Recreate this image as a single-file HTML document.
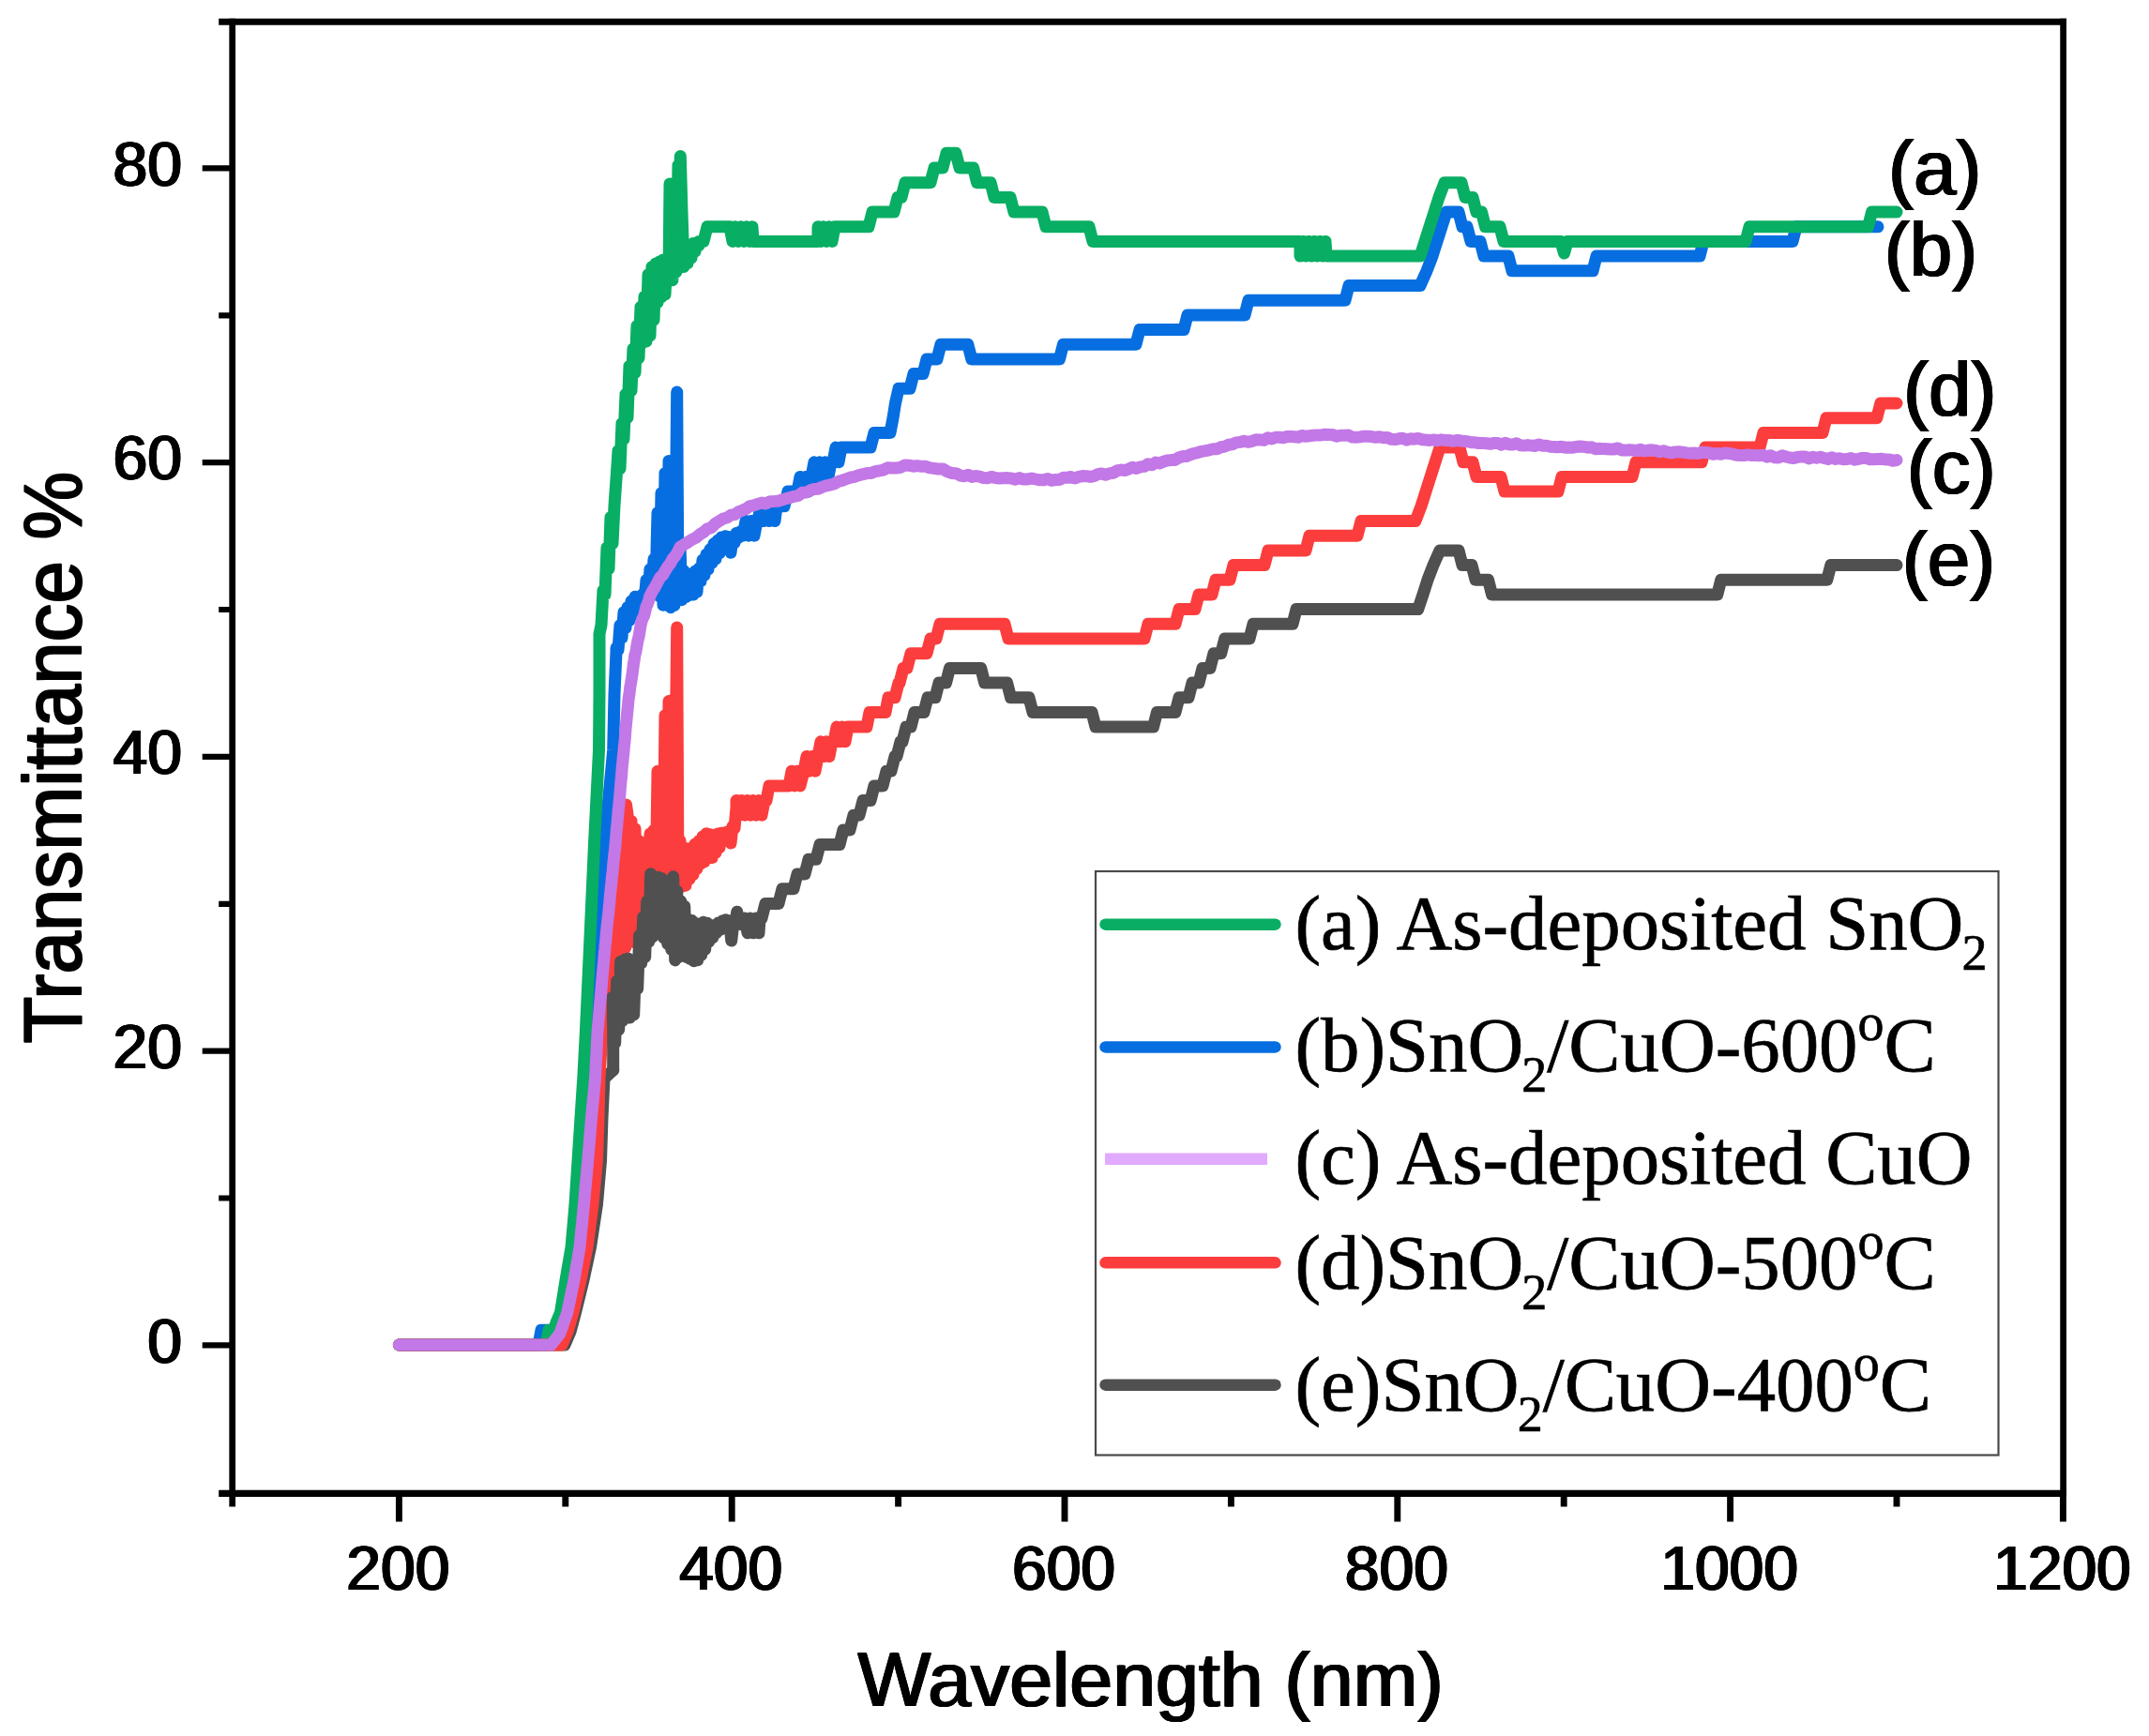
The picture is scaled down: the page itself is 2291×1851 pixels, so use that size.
<!DOCTYPE html>
<html lang="en"><head><meta charset="utf-8"><title>Transmittance vs Wavelength</title>
<style>html,body{margin:0;padding:0;background:#fff}body{width:2291px;height:1851px;overflow:hidden}svg{display:block}</style></head>
<body>
<svg width="2291" height="1851" viewBox="0 0 2291 1851">
<rect width="2291" height="1851" fill="#fff"/>
<path d="M425.4 1434.0 L574.0 1434.0 L577.0 1418.3 L589.0 1418.3 L596.0 1422.0 L604.0 1399.5 L611.0 1365.0 L616.0 1330.0 L621.0 1284.0 L625.0 1238.0 L629.0 1192.0 L633.0 1150.0 L636.0 1100.0 L640.0 1000.0 L644.0 900.0 L649.0 850.0 L653.7 800.0 L655.0 740.0 L657.0 695.0 L657.0 690.9 L659.0 693.0 L661.0 666.6 L663.0 679.9 L665.0 652.7 L667.0 669.3 L669.0 647.6 L671.0 661.4 L673.0 641.1 L675.0 655.8 L677.0 636.2 L679.0 652.0 L681.0 639.0 L683.0 649.0 L685.0 633.6 L687.0 641.0 L689.0 618.6 L691.0 636.7 L693.0 606.8 L695.0 629.9 L697.0 596.2 L699.0 627.1 L701.0 546.6 L703.0 635.8 L705.0 525.7 L707.0 645.3 L709.0 504.4 L711.0 645.1 L713.0 491.4 L715.0 647.7 L717.0 499.2 L719.0 645.5 L721.0 488.9 L721.7 418.0 L723.0 637.7 L725.0 582.2 L727.0 639.7 L729.0 608.6 L731.0 636.6 L733.0 611.8 L735.0 634.6 L737.0 612.3 L739.0 634.0 L741.0 609.1 L743.0 630.9 L745.0 606.1 L747.0 619.7 L749.0 597.1 L751.0 613.1 L753.0 591.1 L755.0 606.9 L757.0 585.7 L759.0 600.1 L761.0 579.7 L763.0 595.9 L765.0 576.3 L767.0 589.7 L769.0 572.9 L771.0 583.3 L773.0 571.7 L775.0 581.0 L777.0 572.6 L779.0 589.3 L781.0 572.8 L783.0 578.7 L785.0 568.4 L787.0 573.5 L789.0 567.1 L791.0 568.3 L792.0 571.2 L795.0 555.5 L798.0 571.2 L801.0 555.5 L804.0 571.2 L807.0 555.5 L808.0 555.5 L811.0 539.8 L814.0 555.5 L817.0 539.8 L820.0 555.5 L823.0 539.8 L826.0 555.5 L828.0 539.8 L836.0 539.8 L840.0 524.1 L850.0 524.1 L850.0 524.1 L853.0 508.4 L856.0 524.1 L859.0 508.4 L862.0 524.1 L865.0 508.4 L868.0 492.8 L871.0 508.4 L874.0 492.8 L877.0 508.4 L880.0 492.8 L883.0 508.4 L886.0 492.8 L888.0 492.8 L891.0 477.1 L894.0 492.8 L897.0 477.1 L900.0 477.1 L928.0 477.1 L932.0 461.4 L949.0 461.4 L952.0 445.7 L952.0 445.7 L954.5 430.0 L954.5 430.0 L958.0 414.3 L970.0 414.3 L974.0 398.6 L984.0 398.6 L988.0 382.9 L999.0 382.9 L1003.0 367.2 L1031.8 367.2 L1035.8 382.9 L1129.5 382.9 L1133.5 367.2 L1211.0 367.2 L1215.0 351.6 L1262.0 351.6 L1266.0 335.9 L1327.0 335.9 L1331.0 320.2 L1434.0 320.2 L1438.0 304.5 L1514.0 304.5 L1514.0 304.5 L1521.0 288.8 L1527.0 273.1 L1532.0 257.4 L1537.0 241.8 L1542.0 226.1 L1542.0 226.1 L1555.0 226.1 L1559.0 241.8 L1564.0 241.8 L1568.0 257.4 L1578.0 257.4 L1582.0 273.1 L1608.0 273.1 L1612.0 288.8 L1698.0 288.8 L1702.0 273.1 L1812.0 273.1 L1816.0 257.4 L1911.0 257.4 L1915.0 241.8 L2002.0 241.8" fill="none" stroke="#066ee0" stroke-width="13" stroke-linejoin="round" stroke-linecap="round"/>
<path d="M425.4 1434.0 L582.0 1434.0 L585.0 1418.3 L590.5 1418.3 L593.0 1410.0 L597.5 1399.5 L603.0 1365.0 L609.0 1330.0 L613.0 1284.0 L616.0 1238.0 L619.0 1192.0 L622.0 1146.0 L624.4 1100.0 L629.0 1000.0 L633.5 900.0 L638.5 800.0 L639.0 740.0 L639.0 676.0 L639.0 676.0 L641.0 666.4 L643.0 629.5 L645.0 634.0 L647.0 583.7 L649.0 606.5 L651.0 551.6 L653.0 579.7 L655.0 539.3 L658.3 492.0 L659.0 480.6 L661.0 499.7 L663.0 451.4 L665.0 468.1 L667.0 420.2 L669.0 445.3 L671.0 390.2 L673.0 416.8 L675.0 371.8 L677.0 397.4 L679.0 347.6 L681.0 381.7 L683.0 327.3 L685.0 365.6 L687.0 316.1 L689.0 364.0 L691.0 292.7 L693.0 358.0 L695.0 284.5 L697.0 341.1 L699.0 280.9 L701.0 322.6 L703.0 279.1 L705.0 316.9 L707.0 276.9 L709.0 314.1 L711.0 275.9 L713.0 299.2 L714.0 196.0 L715.0 202.9 L717.0 298.7 L719.0 207.0 L721.0 290.0 L723.0 176.3 L725.0 278.2 L725.3 166.5 L727.0 226.3 L729.0 284.5 L731.0 261.8 L733.0 280.6 L735.0 261.1 L737.0 274.9 L739.0 259.5 L741.0 268.2 L743.0 259.1 L745.0 261.8 L745.0 257.4 L750.0 257.4 L754.0 241.8 L778.0 241.8 L778.0 241.8 L781.0 257.4 L784.0 241.8 L787.0 257.4 L790.0 241.8 L793.0 257.4 L796.0 241.8 L799.0 257.4 L802.0 241.8 L803.0 257.4 L872.0 257.4 L872.0 241.8 L875.0 257.4 L878.0 241.8 L881.0 257.4 L884.0 241.8 L887.0 257.4 L890.0 241.8 L893.0 241.8 L926.0 241.8 L930.0 226.1 L953.0 226.1 L957.0 210.4 L961.0 210.4 L965.0 194.7 L992.0 194.7 L996.0 179.0 L1005.0 179.0 L1009.0 163.3 L1019.0 163.3 L1023.0 179.0 L1037.6 179.0 L1041.6 194.7 L1056.0 194.7 L1060.0 210.4 L1077.0 210.4 L1081.0 226.1 L1111.0 226.1 L1115.0 241.8 L1161.0 241.8 L1165.0 257.4 L1386.0 257.4 L1386.0 273.1 L1389.0 257.4 L1392.0 273.1 L1395.0 257.4 L1398.0 273.1 L1401.0 257.4 L1404.0 273.1 L1407.0 257.4 L1410.0 273.1 L1413.0 257.4 L1414.0 273.1 L1514.0 273.1 L1514.0 273.1 L1519.0 257.4 L1524.0 241.8 L1529.0 226.1 L1534.0 210.4 L1540.0 194.7 L1540.0 194.7 L1558.0 194.7 L1562.0 210.4 L1570.0 210.4 L1574.0 226.1 L1579.5 226.1 L1583.5 241.8 L1599.0 241.8 L1603.0 257.4 L1664.0 257.4 L1664.0 257.4 L1667.5 270.0 L1671.0 257.4 L1671.0 257.4 L1861.0 257.4 L1865.0 241.8 L1991.5 241.8 L1995.5 226.1 L2022.0 226.1" fill="none" stroke="#08ae63" stroke-width="13" stroke-linejoin="round" stroke-linecap="round"/>
<path d="M425.4 1434.0 L602.0 1434.0 L608.0 1420.0 L613.5 1399.5 L622.0 1365.0 L629.5 1330.0 L636.5 1284.0 L640.5 1238.0 L642.0 1192.0 L644.0 1150.0 L653.7 1141.0" fill="none" stroke="#505050" stroke-width="13" stroke-linejoin="round" stroke-linecap="round"/>
<path d="M425.4 1434.0 L599.0 1434.0 L605.0 1420.0 L611.0 1399.5 L619.0 1365.0 L626.0 1330.0 L632.0 1284.0 L636.4 1238.0 L638.0 1192.0 L639.0 1150.0 L642.0 1100.0 L645.0 1061.0 L645.0 1061.0 L647.0 1061.9 L649.0 1028.3 L651.0 1062.9 L653.0 996.8 L655.0 1049.3 L657.0 960.8 L659.0 1039.4 L661.0 915.7 L663.0 1025.8 L665.0 892.1 L667.0 1010.1 L667.5 858.0 L669.0 868.1 L671.0 1004.7 L673.0 875.4 L675.0 1004.3 L677.0 883.6 L679.0 988.7 L681.0 896.4 L683.0 988.5 L685.0 900.5 L687.0 996.6 L689.0 898.1 L691.0 995.5 L693.0 888.9 L695.0 977.4 L697.0 885.1 L699.0 960.6 L701.0 822.3 L703.0 947.7 L705.0 821.5 L707.0 942.1 L709.0 762.7 L711.0 953.7 L713.0 747.6 L715.0 938.9 L717.0 746.2 L719.0 932.7 L721.0 733.7 L721.7 669.0 L723.0 948.3 L725.0 896.3 L727.0 945.3 L729.0 904.5 L731.0 944.2 L733.0 904.7 L735.0 937.3 L737.0 904.6 L739.0 932.7 L741.0 899.9 L743.0 926.4 L745.0 896.7 L747.0 920.9 L749.0 892.0 L751.0 918.9 L753.0 888.7 L755.0 913.9 L757.0 889.7 L759.0 914.6 L761.0 890.9 L763.0 909.1 L765.0 889.1 L767.0 903.7 L769.0 888.3 L771.0 895.9 L773.0 887.7 L775.0 894.6 L777.0 886.2 L779.0 898.9 L781.0 881.1 L783.0 883.4 L785.0 861.1 L785.0 853.6 L788.0 869.2 L791.0 853.6 L794.0 869.2 L797.0 853.6 L800.0 869.2 L803.0 853.6 L806.0 869.2 L809.0 853.6 L812.0 869.2 L815.0 853.6 L817.0 853.6 L820.0 837.9 L823.0 837.9 L841.0 837.9 L841.0 837.9 L844.0 822.2 L847.0 837.9 L850.0 822.2 L853.0 837.9 L857.0 822.2 L860.0 806.5 L863.0 822.2 L866.0 806.5 L869.0 822.2 L872.0 806.5 L875.0 790.8 L878.0 806.5 L881.0 790.8 L884.0 806.5 L887.0 790.8 L889.0 790.8 L892.0 775.1 L895.0 790.8 L898.0 775.1 L901.0 790.8 L904.0 775.1 L907.0 775.1 L924.0 775.1 L924.0 775.1 L927.0 759.4 L930.0 759.4 L944.0 759.4 L944.0 759.4 L947.0 743.8 L950.0 743.8 L954.0 743.8 L958.0 728.1 L959.0 728.1 L963.0 712.4 L967.0 712.4 L971.0 696.7 L988.0 696.7 L992.0 681.0 L998.0 681.0 L1002.0 665.3 L1071.0 665.3 L1075.0 681.0 L1220.0 681.0 L1224.0 665.3 L1253.0 665.3 L1257.0 649.6 L1274.0 649.6 L1278.0 633.9 L1292.0 633.9 L1296.0 618.2 L1311.0 618.2 L1315.0 602.6 L1348.0 602.6 L1352.0 586.9 L1392.0 586.9 L1396.0 571.2 L1447.0 571.2 L1451.0 555.5 L1509.0 555.5 L1509.0 555.5 L1515.0 539.8 L1520.0 524.1 L1525.0 508.4 L1530.0 492.8 L1535.0 477.1 L1535.0 477.1 L1556.0 477.1 L1560.0 492.8 L1570.0 492.8 L1574.0 508.4 L1600.0 508.4 L1604.0 524.1 L1661.0 524.1 L1665.0 508.4 L1740.0 508.4 L1744.0 492.8 L1814.0 492.8 L1818.0 477.1 L1876.0 477.1 L1880.0 461.4 L1943.0 461.4 L1947.0 445.7 L2000.8 445.7 L2004.8 430.0 L2022.0 430.0" fill="none" stroke="#fc3d3d" stroke-width="13" stroke-linejoin="round" stroke-linecap="round"/>
<path d="M653.7 1141.0 L653.7 1100.0 L653.2 1063.0 L653.7 1065.8 L655.7 1112.2 L657.7 1046.0 L659.7 1097.9 L661.7 1025.2 L663.7 1088.5 L665.7 1023.3 L667.7 1081.1 L669.7 1022.0 L671.7 1084.9 L673.7 1026.1 L675.7 1082.0 L677.7 1022.8 L679.7 1054.1 L681.7 997.3 L683.7 1027.0 L685.7 977.8 L687.7 1020.5 L689.7 961.1 L691.7 1004.2 L693.7 931.7 L695.7 999.0 L697.7 937.2 L699.7 991.0 L701.7 935.3 L703.7 992.5 L705.7 936.8 L707.7 1000.1 L709.7 953.4 L711.7 1006.4 L713.7 952.7 L715.7 1012.4 L717.7 934.8 L719.7 1023.9 L721.7 950.0 L723.7 1020.4 L725.7 960.8 L727.7 1017.4 L729.7 966.2 L731.7 1020.6 L733.7 980.3 L735.7 1022.4 L737.7 981.6 L739.7 1024.8 L741.7 984.4 L743.7 1023.8 L745.7 986.6 L747.7 1018.3 L749.7 983.3 L751.7 1012.3 L753.7 984.3 L755.7 1004.0 L757.7 991.3 L759.7 999.8 L761.7 986.4 L763.7 994.6 L765.7 984.1 L767.7 991.3 L769.7 982.1 L771.7 987.7 L773.7 980.7 L775.7 987.7 L777.7 981.7 L779.7 1003.0 L781.7 986.1 L783.7 986.8 L785.7 972.3 L787.7 983.9 L789.7 978.6 L791.7 986.2 L793.7 980.3 L794.0 979.1 L797.0 994.8 L800.0 979.1 L803.0 994.8 L806.0 979.1 L809.0 994.8 L810.0 979.1 L812.0 979.1 L816.0 963.4 L830.0 963.4 L834.0 947.7 L846.0 947.7 L850.0 932.0 L858.0 932.0 L862.0 916.3 L870.0 916.3 L874.0 900.6 L895.0 900.6 L899.0 884.9 L906.0 884.9 L910.0 869.2 L916.0 869.2 L920.0 853.6 L928.0 853.6 L932.0 837.9 L941.0 837.9 L945.0 822.2 L950.0 822.2 L954.0 806.5 L956.0 806.5 L960.0 790.8 L962.0 790.8 L966.0 775.1 L971.0 775.1 L975.0 759.4 L985.0 759.4 L989.0 743.8 L997.0 743.8 L1001.0 728.1 L1008.5 728.1 L1012.5 712.4 L1045.7 712.4 L1049.7 728.1 L1073.6 728.1 L1077.6 743.8 L1097.0 743.8 L1101.0 759.4 L1164.0 759.4 L1168.0 775.1 L1229.5 775.1 L1233.5 759.4 L1253.0 759.4 L1257.0 743.8 L1267.0 743.8 L1271.0 728.1 L1278.0 728.1 L1282.0 712.4 L1290.0 712.4 L1294.0 696.7 L1301.7 696.7 L1305.7 681.0 L1332.0 681.0 L1336.0 665.3 L1378.0 665.3 L1382.0 649.6 L1511.7 649.6 L1511.7 649.6 L1517.0 633.9 L1522.0 618.2 L1528.0 602.6 L1535.0 586.9 L1535.0 586.9 L1555.0 586.9 L1559.0 602.6 L1569.0 602.6 L1573.0 618.2 L1586.5 618.2 L1590.5 633.9 L1830.8 633.9 L1834.8 618.2 L1947.8 618.2 L1951.8 602.6 L2022.0 602.6" fill="none" stroke="#505050" stroke-width="13" stroke-linejoin="round" stroke-linecap="round"/>
<path d="M425.4 1434.0 L429.5 1434.0 L433.5 1434.0 L437.6 1434.0 L441.6 1434.0 L445.7 1434.0 L449.7 1434.0 L453.8 1434.0 L457.8 1434.0 L461.9 1434.0 L465.9 1434.0 L470.0 1434.0 L474.0 1434.0 L478.1 1434.0 L482.1 1434.0 L486.2 1434.0 L490.2 1434.0 L494.3 1434.0 L498.3 1434.0 L502.4 1434.0 L506.4 1434.0 L510.5 1434.0 L514.6 1434.0 L518.6 1434.0 L522.7 1434.0 L526.7 1434.0 L530.8 1434.0 L534.8 1434.0 L538.9 1434.0 L542.9 1434.0 L547.0 1434.0 L551.0 1434.0 L555.1 1434.0 L559.1 1434.0 L563.2 1434.0 L567.2 1434.0 L571.3 1434.0 L575.3 1434.0 L579.4 1434.0 L583.4 1434.0 L587.5 1434.0 L590.6 1430.0 L593.7 1426.0 L596.8 1422.0 L598.4 1417.5 L600.0 1413.0 L601.6 1408.5 L603.2 1404.0 L604.8 1399.5 L605.7 1395.2 L606.6 1390.9 L607.5 1386.6 L608.4 1382.2 L609.3 1377.9 L610.2 1373.6 L611.1 1369.3 L612.0 1365.0 L612.8 1360.6 L613.5 1356.2 L614.2 1351.9 L615.0 1347.5 L615.8 1343.1 L616.5 1338.8 L617.2 1334.4 L618.0 1330.0 L618.4 1325.8 L618.8 1321.6 L619.2 1317.5 L619.6 1313.3 L620.0 1309.1 L620.5 1304.9 L620.9 1300.7 L621.3 1296.5 L621.7 1292.4 L622.1 1288.2 L622.5 1284.0 L622.9 1279.8 L623.3 1275.6 L623.6 1271.5 L624.0 1267.3 L624.4 1263.1 L624.8 1258.9 L625.2 1254.7 L625.6 1250.5 L625.9 1246.4 L626.3 1242.2 L626.7 1238.0 L627.0 1233.8 L627.4 1229.6 L627.7 1225.5 L628.1 1221.3 L628.4 1217.1 L628.8 1212.9 L629.1 1208.7 L629.5 1204.5 L629.8 1200.4 L630.2 1196.2 L630.5 1192.0 L630.9 1187.8 L631.3 1183.6 L631.7 1179.4 L632.1 1175.2 L632.5 1171.0 L632.9 1166.8 L633.3 1162.6 L633.7 1158.4 L634.1 1154.2 L634.5 1150.0 L634.7 1145.8 L634.9 1141.7 L635.1 1137.5 L635.3 1133.3 L635.5 1129.2 L635.8 1125.0 L636.0 1120.8 L636.2 1116.7 L636.4 1112.5 L636.6 1108.3 L636.8 1104.2 L637.0 1100.0 L637.4 1095.8 L637.8 1091.7 L638.1 1087.5 L638.5 1083.3 L638.9 1079.2 L639.2 1075.0 L639.6 1070.8 L640.0 1066.7 L640.4 1062.3 L640.8 1057.4 L641.1 1054.5 L641.5 1048.9 L641.9 1044.8 L642.2 1041.0 L642.6 1036.7 L643.0 1032.9 L643.4 1028.1 L643.8 1023.8 L644.1 1020.0 L644.5 1015.7 L644.9 1012.2 L645.2 1007.2 L645.6 1005.1 L646.0 1000.3 L646.4 995.0 L646.8 991.1 L647.2 987.1 L647.7 983.0 L648.1 978.3 L648.5 975.8 L648.9 972.0 L649.3 966.6 L649.8 962.5 L650.2 957.3 L650.6 953.2 L651.0 949.6 L651.4 945.3 L651.8 942.5 L652.2 936.7 L652.7 932.2 L653.1 930.2 L653.5 925.1 L653.9 920.0 L654.3 916.8 L654.8 911.4 L655.2 908.4 L655.6 905.3 L656.0 900.9 L656.4 896.3 L656.8 891.1 L657.1 887.2 L657.5 882.5 L657.9 879.8 L658.2 875.1 L658.6 871.5 L659.0 866.3 L659.4 861.8 L659.8 859.1 L660.1 855.3 L660.5 850.8 L660.9 846.6 L661.2 842.4 L661.6 838.1 L662.0 832.7 L662.4 829.2 L662.8 824.7 L663.1 819.7 L663.5 815.5 L663.9 812.0 L664.2 807.8 L664.6 804.6 L665.0 801.1 L665.4 795.7 L665.8 792.7 L666.2 788.7 L666.5 784.5 L666.9 778.9 L667.3 774.4 L667.7 770.3 L668.1 766.0 L668.5 761.9 L668.8 758.8 L669.2 755.3 L669.6 751.0 L670.0 746.0 L670.6 742.1 L671.2 738.3 L671.8 732.3 L672.4 729.5 L673.0 725.8 L673.7 721.3 L674.3 717.0 L674.9 712.1 L675.5 707.2 L676.1 704.4 L676.7 699.1 L677.6 695.9 L678.4 692.0 L679.3 686.3 L680.2 682.0 L681.0 679.0 L681.9 674.2 L682.7 668.5 L683.6 664.1 L684.9 659.9 L686.3 657.4 L687.6 652.9 L688.9 647.0 L690.2 644.4 L691.6 640.4 L692.9 635.4 L695.7 630.0 L698.4 625.9 L701.2 620.3 L703.9 615.4 L706.7 613.1 L709.3 608.4 L711.9 604.1 L714.5 601.0 L717.2 595.8 L719.8 592.9 L722.4 588.8 L725.0 583.3 L729.2 580.7 L733.4 578.1 L737.5 575.3 L741.7 573.4 L745.9 569.9 L750.1 567.4 L754.3 563.7 L758.5 562.6 L762.6 558.3 L766.8 555.6 L771.0 553.0 L775.1 552.0 L779.1 549.2 L783.2 548.6 L787.2 545.9 L791.3 544.3 L795.4 542.5 L799.4 539.6 L803.5 538.9 L807.8 537.4 L812.1 536.1 L816.4 537.1 L820.8 534.7 L825.1 534.6 L829.4 534.3 L833.7 533.0 L838.0 531.6 L842.3 530.6 L846.6 529.3 L851.0 528.4 L855.3 525.3 L859.6 525.0 L864.0 522.8 L868.3 521.4 L872.6 521.2 L876.9 519.1 L881.2 517.8 L885.5 516.8 L889.8 515.7 L894.1 513.2 L898.4 512.1 L902.7 510.5 L907.0 509.0 L911.3 508.3 L915.7 506.6 L920.0 505.7 L924.4 504.4 L928.7 504.4 L933.0 502.7 L937.4 502.0 L941.7 501.1 L946.3 498.8 L950.9 498.9 L955.5 499.1 L960.1 498.3 L964.7 495.9 L969.1 496.2 L973.5 497.2 L977.9 496.6 L982.4 497.3 L986.8 497.2 L991.2 498.9 L995.6 499.4 L1000.0 500.0 L1005.0 499.9 L1009.9 502.9 L1014.8 504.5 L1019.8 504.9 L1023.9 507.1 L1028.0 507.7 L1032.1 506.3 L1036.2 508.4 L1040.3 507.5 L1044.5 508.1 L1048.6 509.6 L1052.7 509.7 L1056.8 508.4 L1060.9 509.5 L1065.0 510.0 L1069.4 509.8 L1073.7 509.6 L1078.1 510.0 L1082.4 511.2 L1086.8 509.6 L1091.1 511.1 L1095.5 510.9 L1099.8 510.1 L1104.2 511.0 L1108.5 511.8 L1112.9 511.7 L1117.0 510.4 L1121.1 512.3 L1125.3 511.5 L1129.4 511.6 L1133.5 509.3 L1137.6 509.3 L1141.8 508.5 L1145.9 510.0 L1150.0 508.4 L1154.1 507.6 L1158.2 507.7 L1162.3 508.4 L1166.3 507.6 L1170.4 505.7 L1174.5 504.9 L1178.6 506.2 L1182.7 504.9 L1186.8 504.3 L1190.9 501.9 L1195.0 501.0 L1199.1 501.6 L1203.2 500.1 L1207.3 498.3 L1211.4 499.5 L1215.5 497.9 L1219.7 497.4 L1223.8 494.8 L1227.9 495.8 L1232.0 493.0 L1236.1 494.0 L1240.2 492.2 L1244.3 491.0 L1248.4 490.6 L1252.5 490.6 L1256.6 488.0 L1260.7 486.6 L1264.8 486.6 L1268.9 484.8 L1272.9 483.5 L1277.0 482.6 L1281.1 481.3 L1285.2 480.6 L1289.3 479.8 L1293.4 478.8 L1297.5 478.8 L1301.6 476.7 L1305.6 476.1 L1309.7 474.3 L1313.8 473.7 L1317.9 471.9 L1322.0 471.4 L1326.2 470.2 L1330.4 471.3 L1334.7 470.3 L1338.9 468.8 L1343.1 468.9 L1347.3 469.4 L1351.6 466.8 L1355.8 467.9 L1360.0 466.3 L1364.0 466.2 L1368.0 466.8 L1372.0 465.5 L1376.0 465.5 L1380.0 465.7 L1384.0 466.2 L1388.0 464.4 L1392.0 465.3 L1396.0 464.7 L1400.0 464.3 L1404.2 463.9 L1408.3 463.9 L1412.5 463.3 L1416.7 463.6 L1420.8 463.6 L1425.0 465.3 L1429.2 464.3 L1433.3 464.2 L1437.5 464.1 L1441.7 466.1 L1445.8 466.3 L1450.0 465.9 L1454.1 465.2 L1458.3 465.3 L1462.4 465.6 L1466.5 466.3 L1470.7 465.8 L1474.8 466.7 L1478.9 466.4 L1483.0 468.3 L1487.2 468.6 L1491.3 467.8 L1495.4 467.3 L1499.6 469.2 L1503.7 467.8 L1507.8 468.2 L1511.9 467.5 L1516.1 468.7 L1520.2 469.1 L1524.3 469.4 L1528.5 468.9 L1532.6 469.8 L1536.6 468.8 L1540.6 469.6 L1544.6 469.4 L1548.6 470.3 L1552.6 469.6 L1556.6 469.8 L1560.6 470.6 L1564.6 470.7 L1568.6 471.7 L1572.6 471.8 L1576.6 472.5 L1580.6 472.4 L1584.7 472.8 L1588.7 473.3 L1592.7 472.4 L1596.7 472.4 L1600.7 474.2 L1604.7 472.3 L1608.7 473.9 L1612.7 473.9 L1616.7 472.7 L1620.7 474.7 L1624.7 475.1 L1628.7 474.6 L1632.7 475.1 L1636.7 475.4 L1640.7 474.0 L1644.7 475.2 L1648.7 475.3 L1652.8 476.3 L1656.8 476.4 L1660.8 476.7 L1664.8 476.3 L1668.8 477.2 L1672.8 476.9 L1676.8 477.2 L1680.8 476.3 L1684.8 476.0 L1688.8 476.4 L1692.9 477.2 L1696.9 476.8 L1700.9 478.7 L1704.9 478.2 L1708.9 478.6 L1712.9 478.8 L1716.9 479.1 L1720.9 478.9 L1724.9 477.9 L1728.9 480.0 L1733.0 480.1 L1737.0 479.7 L1741.0 480.0 L1745.0 480.5 L1749.0 479.3 L1753.1 481.0 L1757.2 480.1 L1761.2 479.8 L1765.3 480.5 L1769.4 481.8 L1773.5 480.7 L1777.6 482.1 L1781.6 482.9 L1785.7 481.9 L1789.8 481.8 L1793.9 482.2 L1798.0 482.9 L1802.1 483.3 L1806.1 483.1 L1810.2 483.4 L1814.3 482.2 L1818.4 482.5 L1822.5 483.0 L1826.5 484.3 L1830.6 483.5 L1834.7 484.3 L1838.8 483.1 L1842.9 483.4 L1846.9 484.1 L1851.0 485.2 L1855.1 485.5 L1859.2 485.6 L1863.3 484.9 L1867.4 485.6 L1871.4 485.6 L1875.5 485.8 L1879.6 485.2 L1883.7 487.2 L1887.8 485.7 L1891.8 487.8 L1895.9 487.9 L1900.0 485.8 L1904.1 487.0 L1908.1 488.0 L1912.2 488.5 L1916.3 487.4 L1920.3 487.0 L1924.4 487.0 L1928.5 488.9 L1932.5 487.3 L1936.6 488.3 L1940.7 487.3 L1944.7 488.4 L1948.8 489.5 L1952.9 487.7 L1956.9 489.4 L1961.0 488.8 L1965.1 489.8 L1969.1 489.5 L1973.2 488.5 L1977.3 490.2 L1981.3 489.4 L1985.4 488.4 L1989.5 488.4 L1993.5 489.7 L1997.6 489.8 L2001.7 489.5 L2005.7 489.3 L2009.8 489.9 L2013.9 489.9 L2017.9 491.3 L2022.0 490.6" fill="none" stroke="#c278e6" stroke-width="13" stroke-linejoin="round" stroke-linecap="round"/>
<g stroke="#000" fill="none" stroke-linecap="butt">
<path stroke-width="6.7" d="M247.7 19.65 V1606.4 M2199.6 19.65 V1595.95"/>
<path stroke-width="7.1" d="M233.2 23.2 H2202.95 M233.2 1592.4 H2202.95"/>
<path stroke-width="6.2" d="M215.7 1434.4 H247.7 M215.7 1120.7 H247.7 M215.7 806.9 H247.7 M215.7 493.1 H247.7 M215.7 179.4 H247.7 M233.2 1277.5 H247.7 M233.2 963.8 H247.7 M233.2 650.0 H247.7 M233.2 336.3 H247.7 "/>
<path stroke-width="6.9" d="M425.4 1592.4 V1622.4 M780.2 1592.4 V1622.4 M1135.0 1592.4 V1622.4 M1489.8 1592.4 V1622.4 M1844.6 1592.4 V1622.4 M2199.4 1592.4 V1622.4 M602.8 1592.4 V1606.4 M957.6 1592.4 V1606.4 M1312.4 1592.4 V1606.4 M1667.2 1592.4 V1606.4 M2022.0 1592.4 V1606.4 "/>
</g>
<defs><filter id="fb" x="-10%" y="-10%" width="120%" height="120%" color-interpolation-filters="sRGB"><feOffset in="SourceGraphic" dx="-1.4" result="a"/><feOffset in="SourceGraphic" dx="-0.7" result="b"/><feOffset in="SourceGraphic" dx="0.7" result="c"/><feOffset in="SourceGraphic" dx="1.4" result="d"/><feMerge><feMergeNode in="a"/><feMergeNode in="b"/><feMergeNode in="SourceGraphic"/><feMergeNode in="c"/><feMergeNode in="d"/></feMerge></filter></defs>
<g font-family="'Liberation Sans', Arial, sans-serif" font-weight="normal" fill="#000">
<g font-size="66px" text-anchor="end" filter="url(#fb)">
<text x="194" y="1452.5">0</text>
<text x="194" y="1138.8">20</text>
<text x="194" y="825.0">40</text>
<text x="194" y="511.2">60</text>
<text x="194" y="197.5">80</text>
</g>
<g font-size="66px" text-anchor="middle" filter="url(#fb)">
<text x="424.4" y="1695">200</text>
<text x="779.2" y="1695">400</text>
<text x="1134.0" y="1695">600</text>
<text x="1488.8" y="1695">800</text>
<text x="1843.6" y="1695">1000</text>
<text x="2198.4" y="1695">1200</text>
</g>
<text x="1226.6" y="1819" font-size="82.4px" text-anchor="middle" filter="url(#fb)">Wavelength (nm)</text>
<text transform="translate(86.2,807.7) rotate(-90) scale(1,1.065)" font-size="81.7px" stroke="#000" stroke-width="2" stroke-linejoin="round" text-anchor="middle">Transmittance %</text>
<g font-size="81px" filter="url(#fb)">
<text x="2013.2" y="206.5">(a)</text>
<text x="2009" y="293.5">(b)</text>
<text x="2029.3" y="443">(d)</text>
<text x="2033" y="526">(c)</text>
<text x="2028" y="623.5">(e)</text>
</g>
</g>
<rect x="1168" y="929" width="962.5" height="622.5" fill="#fff" stroke="#4a4a4a" stroke-width="2.2"/>
<g font-family="'Liberation Serif', 'Times New Roman', serif" font-size="82.8px" fill="#000" stroke="#000" stroke-width="0.7">
<path d="M1178.5 985.7 H1359.5" stroke="#08ae63" stroke-width="12.5" stroke-linecap="round" fill="none"/>
<text x="1380.5" y="1011.7">(a) As-deposited SnO<tspan dx="-2" dy="22" font-size="54px">2</tspan></text>
<path d="M1178.5 1116.4 H1359.5" stroke="#066ee0" stroke-width="12.5" stroke-linecap="round" fill="none"/>
<text x="1380.5" y="1141.5">(b)SnO<tspan dx="-2" dy="22" font-size="54px">2</tspan><tspan dy="-22">/CuO-600</tspan><tspan dy="-32.5" font-size="56px">o</tspan><tspan dy="32.5">C</tspan></text>
<path d="M1178 1235.8 H1351" stroke="#e2aaff" stroke-width="12.5" fill="none"/>
<text x="1380.5" y="1261.5">(c) As-deposited CuO</text>
<path d="M1178.5 1346.3 H1359.5" stroke="#fc3d3d" stroke-width="12.5" stroke-linecap="round" fill="none"/>
<text x="1380.5" y="1374.2">(d)SnO<tspan dx="-2" dy="22" font-size="54px">2</tspan><tspan dy="-22">/CuO-500</tspan><tspan dy="-32.5" font-size="56px">o</tspan><tspan dy="32.5">C</tspan></text>
<path d="M1178.5 1476.7 H1359.5" stroke="#505050" stroke-width="12.5" stroke-linecap="round" fill="none"/>
<text x="1380.5" y="1504">(e)SnO<tspan dx="-2" dy="22" font-size="54px">2</tspan><tspan dy="-22">/CuO-400</tspan><tspan dy="-32.5" font-size="56px">o</tspan><tspan dy="32.5">C</tspan></text>
</g>
</svg>
</body></html>
